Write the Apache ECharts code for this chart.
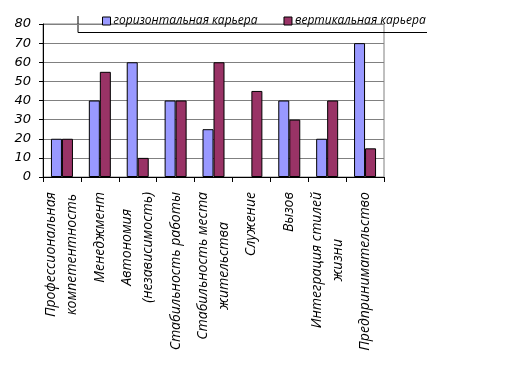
<!DOCTYPE html>
<html><head><meta charset="utf-8">
<script src="https://cdn.jsdelivr.net/npm/echarts@6/dist/echarts.min.js"></script>
<style>html,body{margin:0;padding:0;background:#fff}#c{width:522px;height:375px}</style>
</head><body><div id="c"></div>
<script>
const categories = [
  "Профессиональная\nкомпетентность",
  "Менеджмент",
  "Автономия\n(независимость)",
  "Стабильность работы",
  "Стабильность места\nжительства",
  "Служение",
  "Вызов",
  "Интеграция стилей\nжизни",
  "Предпринимательство"
];
const seriesNames = ["горизонтальная карьера", "вертикальная карьера"];
const horizontal = [20, 40, 60, 40, 25, 0, 40, 20, 70];
const vertical = [20, 55, 10, 40, 60, 45, 30, 40, 15];
const yTicks = [0, 10, 20, 30, 40, 50, 60, 70, 80];

// zero-height bars are drawn without an outline (as in the original)
const toItems = arr => arr.map(v => v === 0 ? {value: v, itemStyle: {borderWidth: 0}} : v);

const chart = echarts.init(document.getElementById('c'), null, {renderer: 'canvas'});
const labelFont = '"Open Sans", sans-serif';
chart.setOption({
  animation: false,
  backgroundColor: '#fff',
  grid: {left: 43, right: 138, top: 24, bottom: 198, show: true, borderColor: '#808080', borderWidth: 1},
  legend: {
    data: seriesNames, left: 97, top: 10, itemWidth: 8, itemHeight: 8, itemGap: 26,
    icon: 'rect',
    itemStyle: {borderColor: '#000', borderWidth: 1},
    textStyle: {fontFamily: labelFont, fontStyle: 'italic', fontSize: 12, color: '#000', padding: [0,0,0,-2]}
  },
  graphic: [
    {type: 'polyline', shape: {points: [[78, 16], [78, 32.5], [427, 32.5]]}, style: {stroke: '#000', lineWidth: 1, fill: null}}
  ],
  xAxis: {
    type: 'category', data: categories,
    axisLine: {lineStyle: {color: '#000'}},
    axisTick: {show: true, length: 5, lineStyle: {color: '#000'}},
    axisLabel: {
      rotate: 90, margin: 15, interval: 0, color: '#000',
      fontFamily: labelFont, fontStyle: 'italic', fontSize: 14, lineHeight: 21,
      formatter: v => v.split('\n').map(s => '{c|' + s + '}').join('\n'),
      rich: {c: {align: 'center', fontFamily: labelFont, fontStyle: 'italic', fontSize: 14, lineHeight: 21, color: '#000'}}
    }
  },
  yAxis: {
    type: 'value', min: yTicks[0], max: yTicks[yTicks.length - 1], interval: 10,
    axisLine: {show: true, lineStyle: {color: '#000'}},
    axisTick: {show: true, length: 4, lineStyle: {color: '#000'}},
    axisLabel: {margin: 12, color: '#000', fontFamily: '"DejaVu Sans", sans-serif', fontStyle: 'italic', fontSize: 13},
    splitLine: {lineStyle: {color: '#808080', width: 1}}
  },
  series: [
    {name: seriesNames[0], type: 'bar', data: toItems(horizontal), barWidth: 11, barGap: '0%',
     itemStyle: {color: '#9999ff', borderColor: '#000', borderWidth: 1}},
    {name: seriesNames[1], type: 'bar', data: toItems(vertical), barWidth: 11,
     itemStyle: {color: '#993366', borderColor: '#000', borderWidth: 1}}
  ]
});
</script></body></html>
